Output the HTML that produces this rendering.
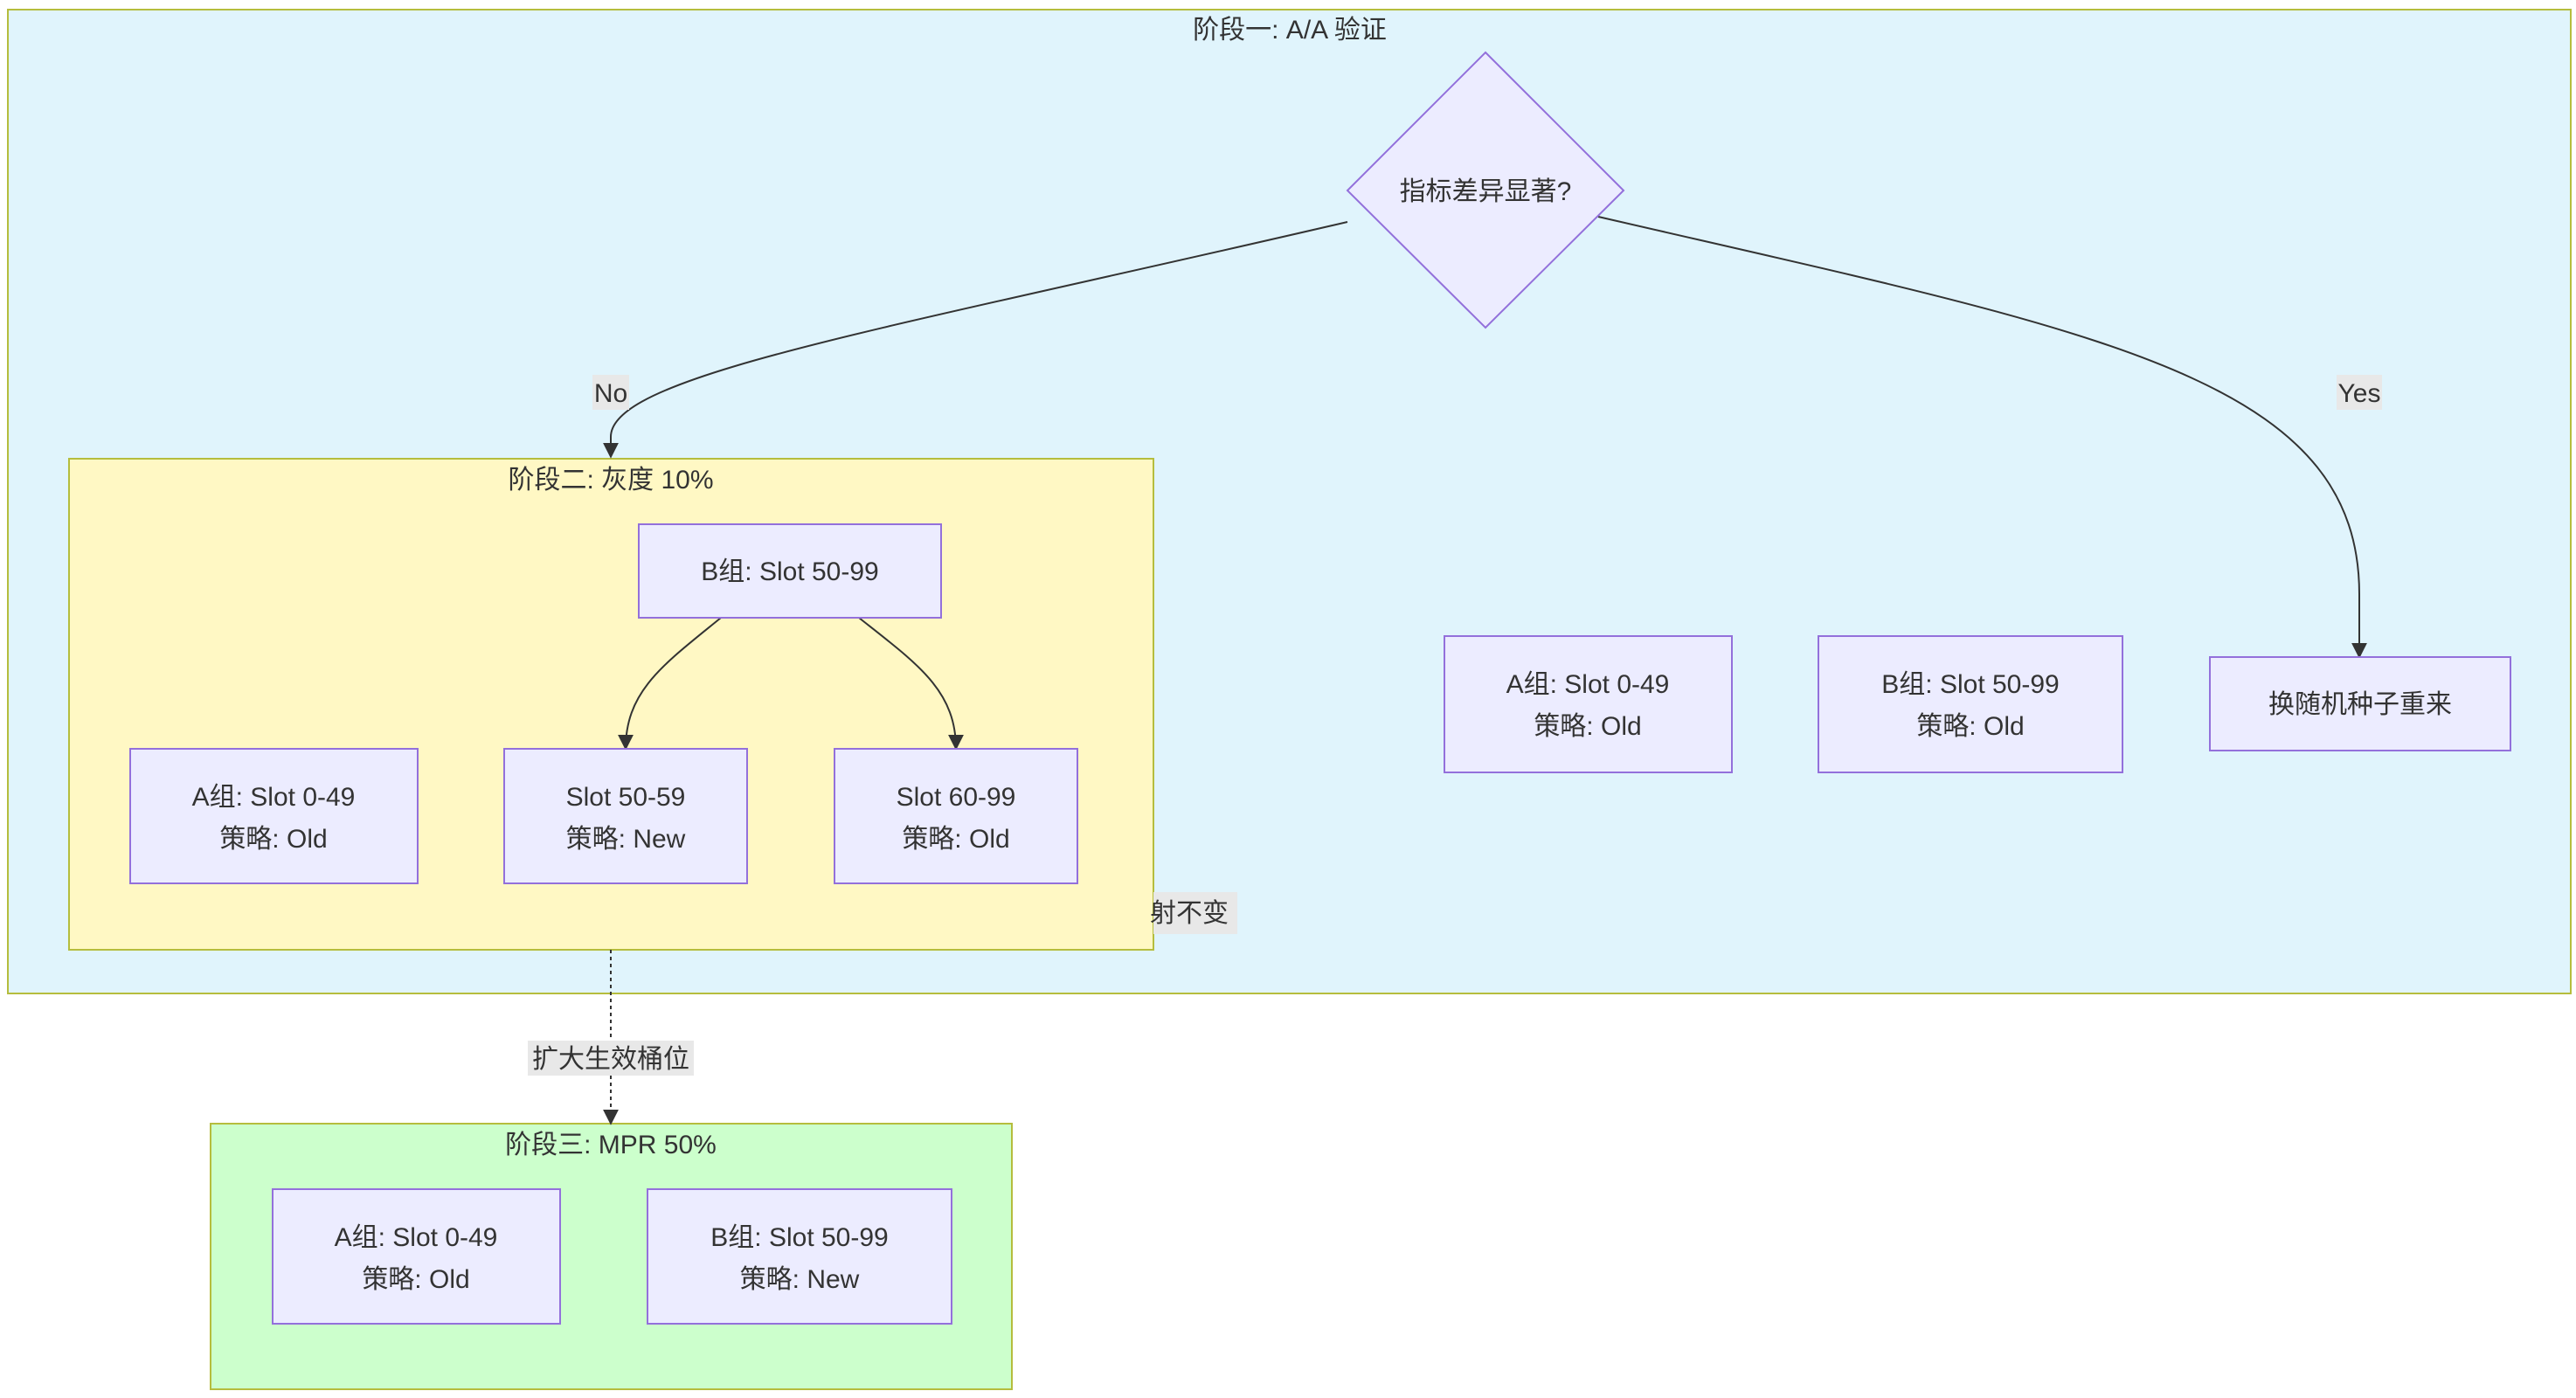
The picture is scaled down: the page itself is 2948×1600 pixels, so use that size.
<!DOCTYPE html>
<html><head><meta charset="utf-8"><style>
html,body{margin:0;padding:0;background:#fff;width:2948px;height:1600px;overflow:hidden}
text{font-family:"Liberation Sans","Noto Sans CJK SC",sans-serif;fill:#333;font-size:30px}
</style></head><body>
<svg width="2948" height="1600" viewBox="0 0 2948 1600" xmlns="http://www.w3.org/2000/svg">
<defs><marker id="ar" viewBox="0 0 10 10" refX="9" refY="5" markerWidth="9" markerHeight="9" markerUnits="userSpaceOnUse" orient="auto"><path d="M0,0L10,5L0,10z" fill="#333"/></marker>
<marker id="a" viewBox="0 0 10 10" refX="9" refY="5" markerWidth="18" markerHeight="18" markerUnits="userSpaceOnUse" orient="auto"><path d="M0,0L10,5L0,10z" fill="#333"/></marker></defs>
<!-- cluster 1 -->
<rect x="9" y="11" width="2933" height="1126" fill="#e0f4fc" stroke="#b5bd3d" stroke-width="2"/>
<text x="1476" y="44" text-anchor="middle">阶段一: A/A 验证</text>
<!-- cluster 2 -->
<rect x="79" y="525" width="1241" height="562" fill="#fff8c4" stroke="#b5bd3d" stroke-width="2"/>
<text x="699" y="559" text-anchor="middle">阶段二: 灰度 10%</text>
<!-- cluster 3 -->
<rect x="241" y="1286" width="917" height="304" fill="#ccffcc" stroke="#b5bd3d" stroke-width="2"/>
<text x="699" y="1320" text-anchor="middle">阶段三: MPR 50%</text>
<!-- edges -->
<path d="M1542,254 C1000,380 699,430 699,500 L699,523" fill="none" stroke="#333" stroke-width="2" marker-end="url(#a)"/>
<path d="M1829,248 C2400,380 2700,430 2700,680 L2700,752" fill="none" stroke="#333" stroke-width="2" marker-end="url(#a)"/>
<path d="M699,1087 L699,1286" fill="none" stroke="#333" stroke-width="2" stroke-dasharray="4,4" marker-end="url(#a)"/>
<path d="M825,707 C760,760 716,790 716,857" fill="none" stroke="#333" stroke-width="2" marker-end="url(#a)"/>
<path d="M983,707 C1050,760 1094,790 1094,857" fill="none" stroke="#333" stroke-width="2" marker-end="url(#a)"/>
<!-- labels -->
<rect x="678" y="429" width="42" height="40" fill="#e8e8e8"/><text x="699" y="460" text-anchor="middle">No</text>
<rect x="2674" y="429" width="52" height="40" fill="#e8e8e8"/><text x="2700" y="460" text-anchor="middle">Yes</text>
<rect x="604" y="1191" width="190" height="40" fill="#e8e8e8"/><text x="699" y="1222" text-anchor="middle">扩大生效桶位</text>
<rect x="1320" y="1021" width="96" height="48" fill="#e8e8e8"/><text x="1316" y="1055">射不变</text>
<!-- diamond -->
<polygon points="1700,60 1858,218 1700,375 1542,218" fill="#ececff" stroke="#9370db" stroke-width="2"/>
<text x="1700" y="229" text-anchor="middle">指标差异显著?</text>
<!-- nodes -->
<g fill="#ececff" stroke="#9370db" stroke-width="2">
<rect x="731" y="600" width="346" height="107"/>
<rect x="149" y="857" width="329" height="154"/>
<rect x="577" y="857" width="278" height="154"/>
<rect x="955" y="857" width="278" height="154"/>
<rect x="1653" y="728" width="329" height="156"/>
<rect x="2081" y="728" width="348" height="156"/>
<rect x="2529" y="752" width="344" height="107"/>
<rect x="312" y="1361" width="329" height="154"/>
<rect x="741" y="1361" width="348" height="154"/>
</g>
<g text-anchor="middle">
<text x="904" y="664">B组: Slot 50-99</text>
<text x="313" y="922">A组: Slot 0-49</text><text x="313" y="970">策略: Old</text>
<text x="716" y="922">Slot 50-59</text><text x="716" y="970">策略: New</text>
<text x="1094" y="922">Slot 60-99</text><text x="1094" y="970">策略: Old</text>
<text x="1817" y="793">A组: Slot 0-49</text><text x="1817" y="841">策略: Old</text>
<text x="2255" y="793">B组: Slot 50-99</text><text x="2255" y="841">策略: Old</text>
<text x="2701" y="816">换随机种子重来</text>
<text x="476" y="1426">A组: Slot 0-49</text><text x="476" y="1474">策略: Old</text>
<text x="915" y="1426">B组: Slot 50-99</text><text x="915" y="1474">策略: New</text>
</g>
</svg>
</body></html>
